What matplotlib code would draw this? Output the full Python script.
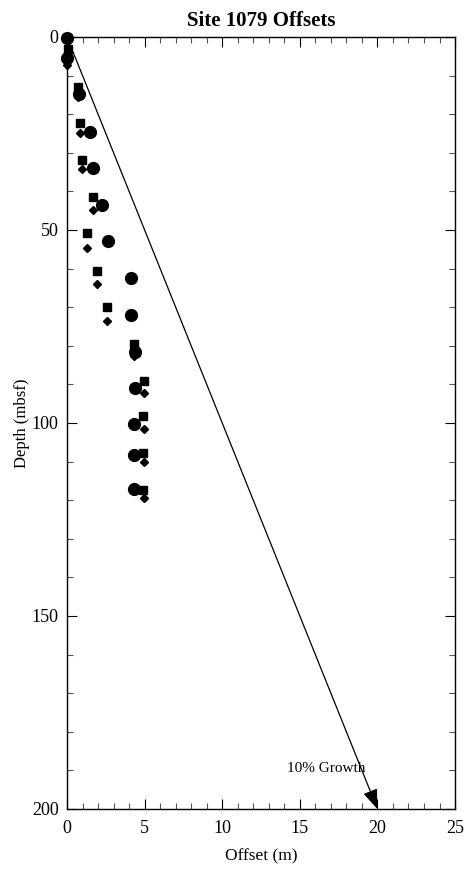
import matplotlib
matplotlib.use("Agg")
import matplotlib.pyplot as plt
from matplotlib.ticker import MultipleLocator

plt.rcParams['font.family'] = ['Liberation Serif', 'DejaVu Serif']

# offsets (m) and depths (mbsf)
circle_x = [0.0, 0.0, 0.8, 1.5, 1.65, 2.25, 2.65, 4.1, 4.1, 4.4, 4.4, 4.3, 4.3, 4.3]
circle_y = [0.2, 5.5, 14.8, 24.5, 34.0, 43.4, 52.9, 62.4, 72.0, 81.6, 90.9, 100.2, 108.4, 117.1]

square_x = [0.08, 0.73, 0.84, 0.97, 1.7, 1.27, 1.94, 2.58, 4.32, 4.93, 4.92, 4.92, 4.92]
square_y = [3.1, 12.9, 22.3, 31.8, 41.4, 50.9, 60.5, 70.0, 79.6, 89.0, 98.3, 107.8, 117.3]

diamond_x = [0.02, 0.73, 0.84, 0.97, 1.7, 1.27, 1.94, 2.58, 4.32, 4.93, 4.93, 4.93, 4.93]
diamond_y = [7.3, 15.5, 25.0, 34.3, 44.9, 54.7, 64.1, 73.6, 82.7, 92.3, 101.6, 110.2, 119.5]

# 10% growth reference line
growth_start = (0, 0)
growth_end = (20, 200)

fig = plt.figure(figsize=(4.74, 8.89), dpi=100)
ax = fig.add_axes([0.1414, 0.09, 0.8186, 0.8684])

ax.plot(circle_x, circle_y, 'o', color='black', markersize=8.5, linestyle='none', zorder=3, clip_on=False)
ax.plot(square_x, square_y, 's', color='black', markersize=5.5, linestyle='none', zorder=3, clip_on=False)
ax.plot(diamond_x, diamond_y, 'D', color='black', markersize=3.8, linestyle='none', zorder=3, clip_on=False)

ax.annotate('', xy=growth_end, xytext=growth_start,
            arrowprops=dict(arrowstyle='-|>,head_length=1.2,head_width=0.45',
                            color='black', lw=0.9, shrinkA=0, shrinkB=0))
ax.text(19.2, 189.5, '10% Growth', ha='right', va='center', fontsize=11)

ax.set_xlim(0, 25)
ax.set_ylim(200, 0)
ax.xaxis.set_major_locator(MultipleLocator(5))
ax.xaxis.set_minor_locator(MultipleLocator(1))
ax.yaxis.set_major_locator(MultipleLocator(50))
ax.yaxis.set_minor_locator(MultipleLocator(10))
ax.tick_params(which='both', direction='in', top=True, right=True, labelsize=13, width=0.8)
ax.tick_params(which='major', length=7)
ax.tick_params(axis='x', which='major', pad=8)
ax.tick_params(axis='y', which='major', pad=6)
ax.tick_params(which='minor', length=4.5, color='#555555')
for s in ax.spines.values():
    s.set_linewidth(1.0)

ax.set_xlabel('Offset (m)', fontsize=12.5, labelpad=8)
ax.set_ylabel('Depth (mbsf)', fontsize=12, labelpad=1)
ax.set_title('Site 1079 Offsets', fontsize=15, fontweight='bold', pad=8)

fig.savefig('out.png', dpi=100)
